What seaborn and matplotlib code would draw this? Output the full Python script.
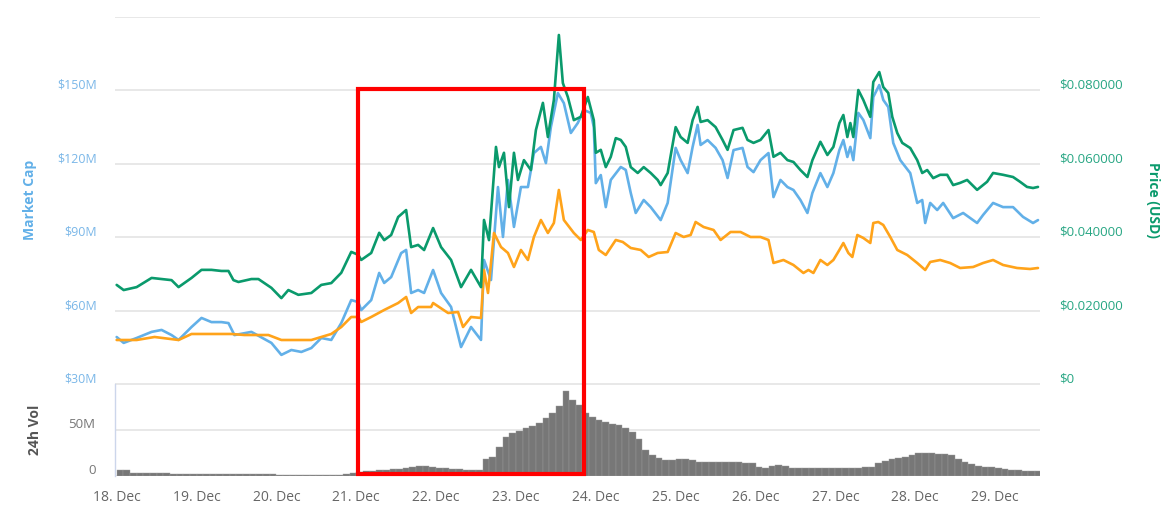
import numpy as np
import matplotlib
matplotlib.use('Agg')
import matplotlib.pyplot as plt
import seaborn as sns
from matplotlib.transforms import ScaledTranslation
from matplotlib.patches import Rectangle

# hours since 18 Dec 00:00
day_labels = ['18. Dec', '19. Dec', '20. Dec', '21. Dec', '22. Dec', '23. Dec',
              '24. Dec', '25. Dec', '26. Dec', '27. Dec', '28. Dec', '29. Dec']

# Price (USD)
t_price = [0, 2.1, 6, 10.5, 13.5, 16.5, 18.6, 22.5, 25.5, 28.5,
           31.5, 33.6, 35.1, 36.6, 40.5, 42.6, 46.5, 49.5, 51.6, 54.6,
           58.5, 61.5, 64.5, 67.5, 70.5, 72.6, 73.5, 76.5, 78.9, 80.4,
           82.5, 84.6, 87, 88.5, 90.6, 92.4, 95.1, 97.5, 100.5, 103.5,
           106.5, 109.5, 110.4, 111.9, 114, 114.9, 116.4, 117.9, 119.4, 120.6,
           122.4, 124.5, 126, 128.1, 129.6, 131.4, 132.9, 134.1, 135.6, 137.4,
           139.5, 141.6, 143.4, 144, 145.5, 147, 148.5, 150, 151.5, 153,
           154.5, 156.6, 158.4, 160.5, 162.6, 163.5, 165.6, 168, 169.5, 171.6,
           173.1, 174.6, 175.5, 177.6, 180, 182.1, 183.6, 185.4, 188.1, 189.6,
           191.4, 193.5, 195.9, 197.4, 199.5, 201.6, 203.4, 205.5, 207.6, 209.1,
           211.5, 213.6, 215.4, 217.2, 218.4, 219.6, 220.5, 221.4, 222.9, 224.4,
           226.5, 227.4, 229.2, 230.4, 231.9, 233.1, 234.6, 236.1, 238.5, 240.6,
           242.1, 243.6, 245.4, 247.5, 249.6, 251.4, 253.5, 255.6, 258.6, 261.6,
           263.4, 266.4, 269.4, 271.5, 273.6, 275.4, 276.9]
price = [0.0270, 0.0256, 0.0264, 0.0289, 0.0286, 0.0283, 0.0264, 0.0289, 0.0311, 0.0311,
         0.0308, 0.0308, 0.0283, 0.0278, 0.0286, 0.0286, 0.0262, 0.0234, 0.0256, 0.0243,
         0.0248, 0.0270, 0.0275, 0.0303, 0.0360, 0.0352, 0.0338, 0.0357, 0.0412, 0.0392,
         0.0406, 0.0455, 0.0474, 0.0373, 0.0379, 0.0365, 0.0425, 0.0373, 0.0338, 0.0264,
         0.0311, 0.0264, 0.0447, 0.0392, 0.0646, 0.0591, 0.0630, 0.0482, 0.0630, 0.0556,
         0.0610, 0.0583, 0.0692, 0.0766, 0.0673, 0.0774, 0.0951, 0.0820, 0.0782, 0.0719,
         0.0728, 0.0782, 0.0719, 0.0630, 0.0638, 0.0591, 0.0619, 0.0670, 0.0665, 0.0646,
         0.0591, 0.0575, 0.0591, 0.0575, 0.0556, 0.0542, 0.0575, 0.0700, 0.0673, 0.0657,
         0.0719, 0.0755, 0.0714, 0.0719, 0.0700, 0.0665, 0.0638, 0.0692, 0.0698, 0.0665,
         0.0657, 0.0665, 0.0692, 0.0619, 0.0630, 0.0610, 0.0605, 0.0583, 0.0564, 0.0610,
         0.0660, 0.0624, 0.0646, 0.0711, 0.0733, 0.0673, 0.0711, 0.0673, 0.0801, 0.0774,
         0.0728, 0.0823, 0.0850, 0.0809, 0.0793, 0.0728, 0.0684, 0.0657, 0.0643, 0.0610,
         0.0575, 0.0583, 0.0561, 0.0570, 0.0570, 0.0542, 0.0548, 0.0556, 0.0529, 0.0551,
         0.0575, 0.0570, 0.0564, 0.0551, 0.0537, 0.0534, 0.0537]

# Market cap (millions USD)
t_mcap = [0, 2.1, 6, 10.5, 13.5, 16.5, 18.6, 22.5, 25.5, 28.5,
          31.5, 33.6, 35.4, 40.5, 46.5, 49.5, 52.5, 55.5, 58.5, 61.5,
          64.5, 67.5, 70.5, 72.6, 73.5, 76.5, 78.9, 80.4, 82.5, 85.5,
          87, 88.5, 90.6, 92.4, 95.1, 97.5, 100.5, 103.5, 106.5, 109.5,
          110.4, 112.5, 114.6, 116.1, 117.6, 119.4, 121.5, 123.6, 125.4, 127.5,
          129, 130.5, 132.6, 134.4, 136.5, 138.6, 140.4, 142.5, 143.4, 144,
          145.5, 147, 148.5, 151.5, 153, 154.5, 156, 158.4, 160.5, 163.5,
          165.6, 168, 169.5, 171.6, 173.1, 174.6, 175.5, 177.6, 180, 182.1,
          183.6, 185.4, 188.1, 189.6, 191.4, 193.5, 195.9, 197.4, 199.5, 201.6,
          203.4, 205.5, 207.6, 209.1, 211.5, 213.6, 215.4, 217.2, 218.4, 219.6,
          220.5, 221.4, 222.9, 224.4, 226.5, 227.4, 229.2, 230.4, 231.9, 233.4,
          235.5, 238.5, 240.6, 242.1, 243, 244.5, 246.6, 248.4, 251.4, 254.4,
          258.6, 260.4, 263.4, 266.4, 269.4, 272.4, 275.4, 276.9]
mcap = [49.2, 46.8, 48.8, 51.3, 52.1, 50.0, 48.0, 53.3, 57.0, 55.3,
        55.3, 54.9, 50.0, 51.3, 46.8, 41.9, 43.9, 43.1, 44.7, 48.8,
        48.0, 54.9, 64.3, 63.5, 60.2, 64.3, 75.4, 71.3, 73.7, 83.5,
        84.8, 67.2, 68.4, 67.2, 76.6, 67.2, 61.5, 45.1, 53.3, 48.0,
        80.7, 72.5, 110.5, 90.1, 113.4, 94.2, 110.5, 110.5, 124.4, 126.9,
        120.3, 135.0, 148.9, 144.8, 132.6, 136.7, 142.0, 140.8, 135.0, 112.1,
        115.4, 102.3, 113.4, 118.7, 117.5, 108.1, 99.9, 105.2, 102.3, 97.0,
        104.0, 126.5, 121.5, 116.2, 126.9, 135.9, 127.7, 129.7, 126.5, 121.5,
        114.2, 125.6, 126.5, 118.7, 116.6, 121.5, 124.4, 106.4, 113.4, 110.5,
        109.3, 105.2, 99.9, 108.1, 116.2, 110.5, 116.2, 125.6, 129.7, 122.8,
        126.9, 121.5, 140.8, 137.9, 130.5, 147.3, 152.2, 146.1, 143.2, 128.5,
        121.5, 116.2, 104.0, 105.2, 95.8, 104.0, 101.1, 104.0, 97.8, 99.9,
        95.8, 99.1, 104.0, 102.3, 102.3, 98.3, 95.8, 97.0]

# Price (BTC), satoshi - hidden axis
t_btc = [0, 6, 11.4, 18.6, 22.5, 34.5, 38.4, 45.6, 49.5, 58.5,
         61.5, 64.5, 67.5, 70.5, 72.6, 73.5, 76.5, 80.4, 84.6, 87,
         88.5, 90.6, 94.5, 95.1, 99.6, 102.6, 104.1, 106.5, 109.5, 110.4,
         111.6, 113.4, 115.5, 117.6, 119.4, 121.5, 123.6, 125.4, 127.5, 129.6,
         131.4, 132.9, 134.4, 137.4, 139.5, 141.6, 143.4, 144.9, 147, 150,
         152.1, 154.5, 157.5, 159.9, 162.6, 165.6, 168, 170.4, 172.5, 174,
         176.4, 179.4, 181.5, 184.5, 187.5, 190.5, 193.5, 195.9, 197.4, 200.4,
         203.4, 206.4, 207.9, 209.4, 211.5, 213.6, 215.4, 217.2, 218.4, 219.9,
         221.1, 222.6, 224.4, 226.5, 227.4, 228.9, 230.4, 232.5, 234.6, 237.6,
         240.6, 243, 244.5, 247.5, 250.5, 253.5, 257.4, 260.4, 263.4, 266.4,
         270.6, 274.5, 276.9]
btc = [119.9, 119.9, 128.1, 119.9, 136.3, 136.3, 133.5, 133.5, 119.9, 119.9,
       128.1, 136.3, 155.3, 182.6, 182.6, 169.0, 182.6, 201.7, 220.7, 237.1,
       193.5, 209.8, 209.8, 220.7, 193.5, 196.2, 155.3, 182.6, 179.9, 310.7,
       248.0, 411.5, 373.3, 357.0, 318.8, 365.2, 337.9, 400.6, 446.9, 411.5,
       438.7, 528.7, 446.9, 411.5, 392.4, 419.7, 414.2, 365.2, 351.5, 392.4,
       387.0, 370.6, 365.2, 346.1, 357.0, 359.7, 411.5, 400.6, 406.0, 441.5,
       427.8, 419.7, 392.4, 414.2, 414.2, 400.6, 400.6, 392.4, 329.7, 337.9,
       324.3, 302.5, 310.7, 302.5, 337.9, 324.3, 337.9, 365.2, 384.2, 357.0,
       346.1, 406.0, 397.9, 384.2, 438.7, 441.5, 433.3, 400.6, 365.2, 351.5,
       329.7, 310.7, 332.5, 337.9, 329.7, 316.1, 318.8, 329.7, 337.9, 324.3,
       316.1, 313.4, 316.1]

# 24h volume (millions), one value per 2 hours
vol = [7, 6.5, 3.5, 3.5, 3.5, 3.5, 3.5, 3.5, 2.5, 2.5, 2.5, 2.5,
       2.5, 2.5, 2.5, 2.5, 2.5, 2.5, 2.5, 2.5, 2.5, 2.5, 2.5, 2.5,
       1.2, 1.2, 1.1, 1.1, 1.1, 1.0, 1.0, 1.1, 1.2, 1.5, 2.5, 3.5,
       4.5, 5, 5.5, 6, 7, 7.5, 8, 9, 10, 11, 11, 10,
       9, 8.5, 8, 7.5, 7, 7, 6.8, 18, 20.5, 32, 42, 47,
       49, 52, 54, 58, 63, 69, 76, 92, 83, 77, 69, 64,
       61, 59, 57, 55, 52, 48, 40, 28, 23, 20, 17, 17.5,
       18, 18, 17.5, 15, 15, 15, 15, 15, 15, 15, 14.5, 14,
       10, 9, 11, 11.5, 11, 9, 9, 9, 9, 9, 9, 9,
       9, 9, 9, 9, 9.5, 9.5, 14, 16, 18, 19.5, 21, 22.5,
       24.5, 25, 24.5, 24, 24, 23, 19, 15.5, 13, 11, 10, 9.5,
       9, 7.5, 6.8, 6, 5.7, 5.7, 5.7]
vol_t = np.arange(len(vol)) * 2

BLUE = '#62b0e8'
GREEN = '#0a9a6c'
ORANGE = '#ffa31a'
GRID = '#e6e6e6'

sns.set_style('white')
plt.rcParams['font.family'] = ['Open Sans', 'DejaVu Sans']

W, H = 1173, 522
fig = plt.figure(figsize=(W / 100, H / 100), dpi=100)


def box(x0, y0, x1, y1):
    return [x0 / W, 1 - y1 / H, (x1 - x0) / W, (y1 - y0) / H]


ax_mc = fig.add_axes(box(115, 17, 1040, 384))
ax_vol = fig.add_axes(box(115, 384, 1040, 476))
xlim = (-0.5, 277.5)

# market cap (left axis)
sns.lineplot(x=t_mcap, y=mcap, ax=ax_mc, color=BLUE, linewidth=1.9)
ax_mc.set_xlim(*xlim)
ax_mc.set_ylim(30, 180)
ax_mc.set_yticks(range(30, 181, 30))
ax_mc.set_yticklabels(['$%dM' % v for v in range(30, 151, 30)] + [''])
ax_mc.grid(axis='y', color=GRID, linewidth=1.3)
ax_mc.tick_params(axis='y', length=0, pad=13, labelsize=9, labelcolor='#7ab7e8')
ax_mc.tick_params(axis='x', bottom=False, labelbottom=False)
ax_mc.set_xlabel('')
ax_mc.set_ylabel('')
for s in ax_mc.spines.values():
    s.set_visible(False)

# hidden BTC price axis
ax_btc = ax_mc.twinx()
sns.lineplot(x=t_btc, y=btc, ax=ax_btc, color=ORANGE, linewidth=1.9)
ax_btc.set_ylim(0, 1000)
ax_btc.set_xlim(*xlim)
ax_btc.axis('off')

# price (right axis)
ax_pr = ax_mc.twinx()
sns.lineplot(x=t_price, y=price, ax=ax_pr, color=GREEN, linewidth=1.9)
ax_pr.set_xlim(*xlim)
ax_pr.set_ylim(0, 0.1)
ax_pr.set_yticks([0, 0.02, 0.04, 0.06, 0.08])
ax_pr.set_yticklabels(['$0', '$0.020000', '$0.040000', '$0.060000', '$0.080000'])
ax_pr.tick_params(axis='y', length=0, pad=14, labelsize=9.5, labelcolor='#27a683')
ax_pr.set_ylabel('')
for s in ax_pr.spines.values():
    s.set_visible(False)

# volume panel
sns.histplot(x=vol_t, weights=vol, binwidth=2, binrange=(0, 278), ax=ax_vol,
             color='#777777', edgecolor='#9a9a9a', linewidth=0.3, alpha=1)
ax_vol.set_xlim(*xlim)
ax_vol.set_ylim(0, 100)
ax_vol.set_yticks([0, 50, 100])
ax_vol.set_yticklabels(['0', '50M', ''])
ax_vol.grid(axis='y', color=GRID, linewidth=1.3)
ax_vol.set_axisbelow(True)
ax_vol.set_xticks(range(0, 265, 24))
ax_vol.set_xticklabels(day_labels)
ax_vol.tick_params(axis='y', length=0, pad=14, labelsize=9.5, labelcolor='#777777')
ax_vol.tick_params(axis='x', length=8, width=1, color='#ccd6eb', pad=2,
                   labelsize=10, labelcolor='#666666')
ax_vol.set_xlabel('')
ax_vol.set_ylabel('')
for k in ['top', 'right', 'bottom']:
    ax_vol.spines[k].set_visible(False)
ax_vol.spines['left'].set_color('#ccd6eb')
ax_vol.spines['left'].set_linewidth(1)

# tick labels sit just above their grid lines
up = ScaledTranslation(0, 0.065, fig.dpi_scale_trans)
for lbl in ax_mc.get_yticklabels() + ax_pr.get_yticklabels() + ax_vol.get_yticklabels():
    lbl.set_transform(lbl.get_transform() + up)

fig.text(30 / W, 1 - 200 / H, 'Market Cap', rotation=90, ha='center', va='center',
         color='#62b0e8', fontsize=10, fontweight='bold')
fig.text(1153 / W, 1 - 200 / H, 'Price (USD)', rotation=270, ha='center', va='center',
         color=GREEN, fontsize=10, fontweight='bold')
fig.text(35 / W, 1 - 430 / H, '24h Vol', rotation=90, ha='center', va='center',
         color='#555555', fontsize=10, fontweight='bold')

# red highlight box
fig.add_artist(Rectangle((358 / W, 1 - 474 / H), (584 - 358) / W, (474 - 89) / H,
                         transform=fig.transFigure, fill=False, edgecolor='#ff0000',
                         linewidth=3, zorder=10))

fig.savefig('out.png', dpi=100)
